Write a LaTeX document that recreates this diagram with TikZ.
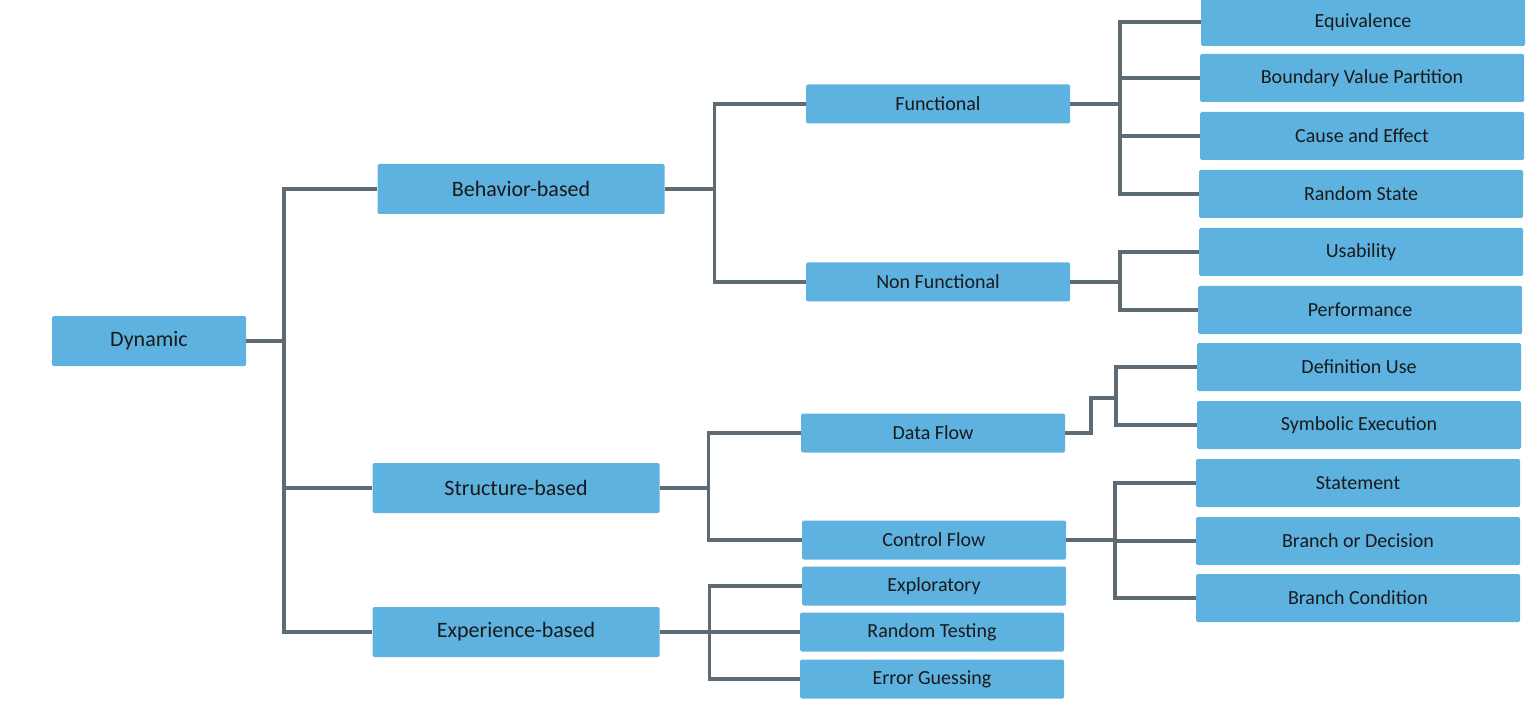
\documentclass[tikz,border=0pt]{standalone}
\usepackage{fontspec}
\setmainfont{Carlito}
\definecolor{boxc}{HTML}{5DB2E0}
\definecolor{linec}{HTML}{5F6B73}
\definecolor{txt}{HTML}{1A1A1A}
\begin{document}
\begin{tikzpicture}[x=1pt,y=-1pt,
  box/.style={fill=boxc,draw=none,rounded corners=1.5pt,inner sep=0pt,text=txt,anchor=center},
  l0/.style={box,minimum width=194pt,minimum height=50pt,font=\fontsize{22}{24}\selectfont},
  l1/.style={box,minimum width=287pt,minimum height=50pt,font=\fontsize{22}{24}\selectfont},
  l2/.style={box,minimum width=264pt,minimum height=39pt,font=\fontsize{20}{22}\selectfont},
  l3/.style={box,minimum width=324pt,minimum height=48pt,font=\fontsize{20}{22}\selectfont},
  con/.style={draw=linec,line width=3.5pt}]
\useasboundingbox (0,0) rectangle (1539,711);
\node[l0] (dyn) at (149,341) {Dynamic};
\node[l1] (beh) at (521,189) {Behavior-based};
\node[l1] (str) at (516,488) {Structure-based};
\node[l1] (exp) at (516,632) {Experience-based};
\node[l2] (fun) at (938,104) {Functional};
\node[l2] (nf) at (938,282) {Non Functional};
\node[l2] (df) at (933,433) {Data Flow};
\node[l2] (cf) at (934,540) {Control Flow};
\node[l2] (ex) at (934,586) {Exploratory};
\node[l2] (rt) at (932,632) {Random Testing};
\node[l2] (eg) at (932,679) {Error Guessing};
\node[l3] (eq) at (1363,22) {Equivalence};
\node[l3] (bv) at (1362,78) {Boundary Value Partition};
\node[l3] (ce) at (1362,136) {Cause and Effect};
\node[l3] (rs) at (1361,194) {Random State};
\node[l3] (us) at (1361,252) {Usability};
\node[l3] (pf) at (1360,310) {Performance};
\node[l3] (du) at (1359,367) {Definition Use};
\node[l3] (se) at (1359,425) {Symbolic Execution};
\node[l3] (st) at (1358,483) {Statement};
\node[l3] (bd) at (1358,541) {Branch or Decision};
\node[l3] (bc) at (1358,598) {Branch Condition};
\foreach \c in {beh,str,exp} \draw[con] (dyn.east) -- ++(38,0) |- (\c.west);
\foreach \c in {fun,nf} \draw[con] (beh.east) -- ++(50,0) |- (\c.west);
\foreach \c in {df,cf} \draw[con] (str.east) -- ++(49,0) |- (\c.west);
\foreach \c in {ex,rt,eg} \draw[con] (exp.east) -- ++(50,0) |- (\c.west);
\foreach \c in {eq,bv,ce,rs} \draw[con] (fun.east) -- ++(50,0) |- (\c.west);
\foreach \c in {us,pf} \draw[con] (nf.east) -- ++(50,0) |- (\c.west);
\coordinate (dfk) at (1116,398);
\foreach \c in {du,se} \draw[con] (df.east) -- ++(26,0) |- (dfk) |- (\c.west);
\foreach \c in {st,bd,bc} \draw[con] (cf.east) -- ++(49,0) |- (\c.west);
\end{tikzpicture}
\end{document}
